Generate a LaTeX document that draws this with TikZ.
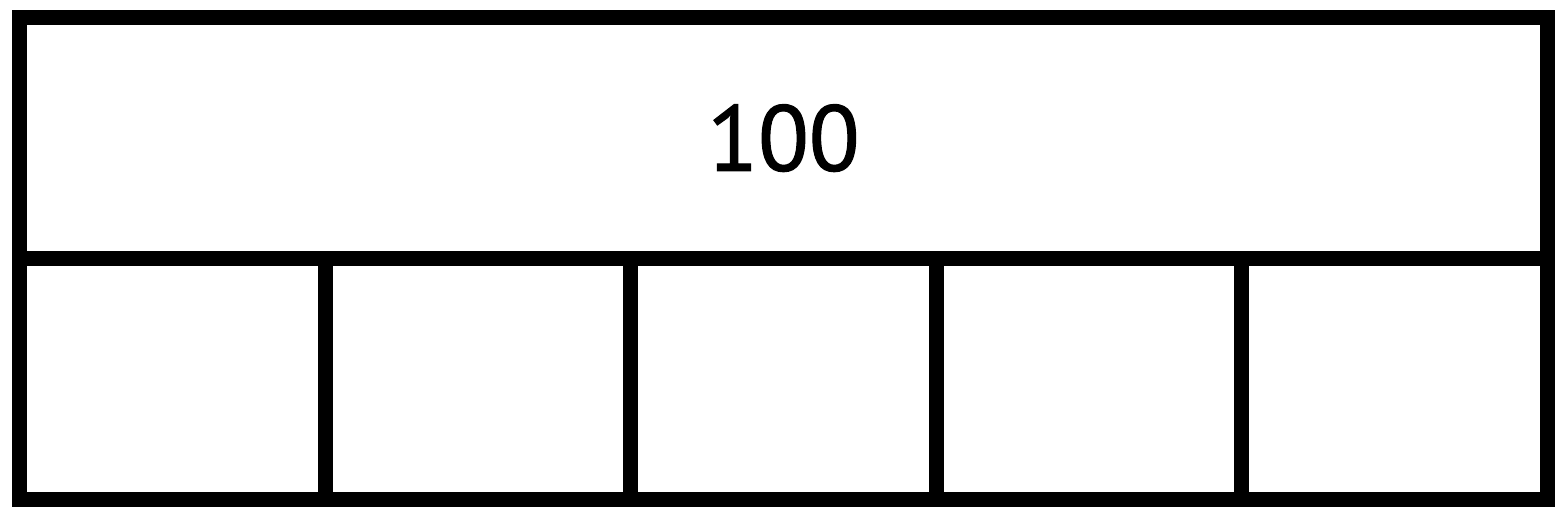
\documentclass[tikz,border=0pt]{standalone}
\usepackage{fontspec}
\setmainfont{PT Sans}
\newfontfamily\numfont[FakeBold=1.2]{PT Sans}

\begin{document}
\begin{tikzpicture}[
	cell/.style={draw,line width=0.15cm,inner sep=0pt,minimum height=2.41cm},
	]
\useasboundingbox (0,0) rectangle (15.64,5.16);
% the whole
\node[cell,minimum width=15.28cm,font=\numfont\fontsize{26.5}{32}\selectfont] (whole) at (7.835,3.779) {100};
% the five parts
\foreach \i in {0,...,4}
	{
	\node[cell,minimum width=3.056cm] (part\i) at (1.723+3.056*\i,1.37) {};
	}
\end{tikzpicture}
\end{document}
